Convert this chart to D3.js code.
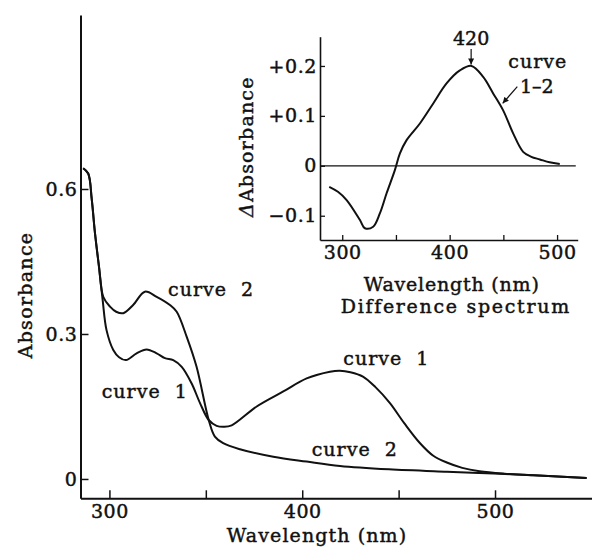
<!DOCTYPE html>
<html>
<head>
<meta charset="utf-8">
<script src="https://cdn.jsdelivr.net/npm/d3@7"></script>
<style>
  html, body { margin: 0; padding: 0; background: #fff; }
  svg { display: block; }
  text { font-family: "DejaVu Serif", "Liberation Serif", serif; fill: #111; stroke: #111; stroke-width: 0.45px; }
</style>
</head>
<body>
<svg id="chart" width="592" height="547"></svg>
<script>
// ---------------- DATA ----------------
// Main panel: absorption spectra
const curve1Wl  = [286.4, 289.0, 290.8, 292.5, 294.6, 296.5, 298.5, 302.0, 305.0, 308.6, 314.1, 319.3, 324.5, 328.8, 333.1, 337.5, 342.6, 347.0, 351.5, 355.6, 359.5, 363.4, 376.4, 390.2, 402.3, 414.4, 419.5, 425.0, 431.5, 438.0, 445.5, 453.0, 461.0, 468.0, 475.0, 483.0, 492.0, 505.0, 520.0, 535.0, 547.5];
const curve1Abs = [0.643, 0.632, 0.580, 0.509, 0.439, 0.370, 0.308, 0.267, 0.252, 0.246, 0.260, 0.268, 0.260, 0.250, 0.246, 0.232, 0.198, 0.157, 0.122, 0.110, 0.108, 0.111, 0.150, 0.181, 0.208, 0.222, 0.224, 0.221, 0.212, 0.190, 0.157, 0.115, 0.0745, 0.048, 0.034, 0.023, 0.016, 0.011, 0.0075, 0.0045, 0.002];

const curve2Wl  = [286.4, 289.0, 290.8, 292.5, 294.6, 296.8, 300.3, 303.5, 307.2, 312.3, 318.4, 324.5, 331.4, 334.9, 340.1, 345.2, 351.5, 354.7, 359.0, 367.7, 385.0, 402.3, 419.6, 445.0, 475.0, 492.0, 505.0, 520.0, 535.0, 547.5];
const curve2Abs = [0.643, 0.632, 0.580, 0.509, 0.439, 0.377, 0.3565, 0.346, 0.343, 0.360, 0.3875, 0.377, 0.360, 0.346, 0.294, 0.232, 0.122, 0.0875, 0.074, 0.0615, 0.046, 0.036, 0.027, 0.020, 0.015, 0.0125, 0.0105, 0.0075, 0.0045, 0.002];

// Inset: difference spectrum (curve 1 - curve 2)
const diffWl  = [287.9, 296.0, 304.1, 316.5, 321.1, 328.8, 335.1, 341.3, 349.0, 353.7, 359.9, 372.3, 384.7, 397.1, 409.5, 420.4, 431.2, 440.5, 449.8, 459.1, 468.4, 476.0, 484.0, 493.0, 502.5];
const diffAbs = [-0.042, -0.052, -0.0686, -0.1086, -0.125, -0.122, -0.095, -0.055, -0.0086, 0.0248, 0.0514, 0.0848, 0.1248, 0.165, 0.191, 0.200, 0.178, 0.145, 0.111, 0.065, 0.028, 0.018, 0.0128, 0.007, 0.0034];

// Tick values / labels
const mainXTicks  = [300, 350, 400, 450, 500];
const mainXLabels = [300, 400, 500];
const mainYTicks  = [0, 0.3, 0.6];
const mainYLabels = ["0", "0.3", "0.6"];
const insetXTicks  = [300, 350, 400, 450, 500];
const insetXLabels = [300, 400, 500];
const insetYTicks  = [-0.1, 0, 0.1, 0.2];
const insetYLabels = ["\u22120.1", "0", "+0.1", "+0.2"];

// Texts
const mainXTitle = "Wavelength (nm)";
const mainYTitle = "Absorbance";
const insetXTitle = "Wavelength (nm)";
const insetSubtitle = "Difference spectrum";
const peakLabel = "420";
const peakWl = 420;

// ---------------- DRAW ----------------
const svg = d3.select("#chart");
const FS = 19;

// Main scales
const x = d3.scaleLinear().domain([285, 550.3]).range([80.5, 592]);
const y = d3.scaleLinear().domain([-0.04, 0.96]).range([498.3, 15]);

// Inset scales
const xi = d3.scaleLinear().domain([279.3, 519.2]).range([320, 577.7]);
const yi = d3.scaleLinear().domain([-0.1486, 0.2586]).range([240, 36.7]);

const line = (xs, ys) => d3.line()
  .x(d => xs(d[0])).y(d => ys(d[1]))
  .curve(d3.curveCatmullRom.alpha(0.5));

function styleAxis(g, dw, tw) {
  g.select(".domain").attr("stroke", "#111").attr("stroke-width", dw);
  g.selectAll(".tick line").attr("stroke", "#111").attr("stroke-width", tw);
  g.selectAll(".tick text").attr("font-size", FS).attr("font-family", "DejaVu Serif")
    .attr("fill", "#111").attr("letter-spacing", 0.6);
}

// ---- main axes ----
const gx = svg.append("g").attr("transform", `translate(0,${y(-0.04)})`)
  .call(d3.axisBottom(x).tickValues(mainXTicks).tickSizeInner(-8).tickSizeOuter(0)
    .tickPadding(6).tickFormat(d => mainXLabels.includes(d) ? String(d) : ""));
const gy = svg.append("g").attr("transform", `translate(${x(285)},0)`)
  .call(d3.axisLeft(y).tickValues(mainYTicks).tickSizeInner(-8).tickSizeOuter(0)
    .tickPadding(3).tickFormat((d, i) => mainYLabels[i]));
styleAxis(gx, 2, 1.5);
styleAxis(gy, 2, 1.5);

// main curves
const c1 = curve1Wl.map((w, i) => [w, curve1Abs[i]]);
const c2 = curve2Wl.map((w, i) => [w, curve2Abs[i]]);
svg.append("path").datum(c1).attr("d", line(x, y)).attr("fill", "none").attr("stroke", "#111").attr("stroke-width", 2);
svg.append("path").datum(c2).attr("d", line(x, y)).attr("fill", "none").attr("stroke", "#111").attr("stroke-width", 2);

// main titles
svg.append("text").attr("x", 317).attr("y", 541.5).attr("text-anchor", "middle")
  .attr("font-size", FS).attr("letter-spacing", 1.1).text(mainXTitle);
svg.append("text").attr("transform", "translate(32,295) rotate(-90)").attr("text-anchor", "middle")
  .attr("font-size", FS).attr("letter-spacing", 1.3).text(mainYTitle);

// curve labels
const curveLabels = [
  {t: "curve\u00a0 2", x: 168, y: 296},
  {t: "curve\u00a0 1", x: 101.7, y: 398},
  {t: "curve\u00a0 1", x: 343.3, y: 365},
  {t: "curve\u00a0 2", x: 311.7, y: 456}
];
curveLabels.forEach(l => svg.append("text").attr("x", l.x).attr("y", l.y)
  .attr("font-size", FS).attr("letter-spacing", 1.0).text(l.t));

// ---- inset ----
const ix = svg.append("g").attr("transform", `translate(0,${yi(-0.1486)})`)
  .call(d3.axisBottom(xi).tickValues(insetXTicks).tickSizeInner(-5).tickSizeOuter(0)
    .tickPadding(6).tickFormat(d => insetXLabels.includes(d) ? String(d) : ""));
const iy = svg.append("g").attr("transform", `translate(${xi(279.3)},0)`)
  .call(d3.axisLeft(yi).tickValues(insetYTicks).tickSizeInner(-5).tickSizeOuter(0)
    .tickPadding(3).tickFormat((d, i) => insetYLabels[i]));
styleAxis(ix, 1.6, 1.3);
styleAxis(iy, 1.6, 1.3);
// zero line
svg.append("line").attr("x1", xi(279.3)).attr("x2", xi(517.4)).attr("y1", yi(0)).attr("y2", yi(0))
  .attr("stroke", "#111").attr("stroke-width", 1.3);

const dd = diffWl.map((w, i) => [w, diffAbs[i]]);
svg.append("path").datum(dd).attr("d", line(xi, yi)).attr("fill", "none").attr("stroke", "#111").attr("stroke-width", 2);

svg.append("text").attr("x", 451.7).attr("y", 290.5).attr("text-anchor", "middle")
  .attr("font-size", FS).attr("letter-spacing", 0.8).text(insetXTitle);
svg.append("text").attr("x", 455.8).attr("y", 313).attr("text-anchor", "middle")
  .attr("font-size", FS).attr("letter-spacing", 1.7).text(insetSubtitle);
const yt = svg.append("text").attr("transform", "translate(253,146.7) rotate(-90)").attr("text-anchor", "middle")
  .attr("font-size", FS).attr("letter-spacing", 1.2);
yt.append("tspan").attr("font-style", "italic").text("\u0394");
yt.append("tspan").text("Absorbance");

// marker
svg.append("defs").append("marker").attr("id", "arr").attr("viewBox", "0 0 10 10")
  .attr("refX", 10).attr("refY", 5).attr("markerWidth", 7).attr("markerHeight", 6)
  .attr("markerUnits", "userSpaceOnUse").attr("orient", "auto")
  .append("path").attr("d", "M0,0 L10,5 L0,10 Z").attr("fill", "#111");

// peak label + arrow
svg.append("text").attr("x", xi(peakWl)).attr("y", 45).attr("text-anchor", "middle")
  .attr("font-size", FS).attr("letter-spacing", 0).text(peakLabel);
svg.append("line").attr("x1", xi(peakWl)).attr("x2", xi(peakWl)).attr("y1", 49).attr("y2", yi(0.2) - 1.5)
  .attr("stroke", "#111").attr("stroke-width", 1.2).attr("marker-end", "url(#arr)");

// curve 1-2 label + arrow
svg.append("text").attr("x", 508.3).attr("y", 68.3).attr("font-size", FS).attr("letter-spacing", 1.0).text("curve");
svg.append("text").attr("x", 520).attr("y", 93.3).attr("font-size", FS).text("1\u20132");
svg.append("line").attr("x1", 517.3).attr("y1", 86.7).attr("x2", 502.7).attr("y2", 103.3)
  .attr("stroke", "#111").attr("stroke-width", 1.2).attr("marker-end", "url(#arr)");
</script>
</body>
</html>
